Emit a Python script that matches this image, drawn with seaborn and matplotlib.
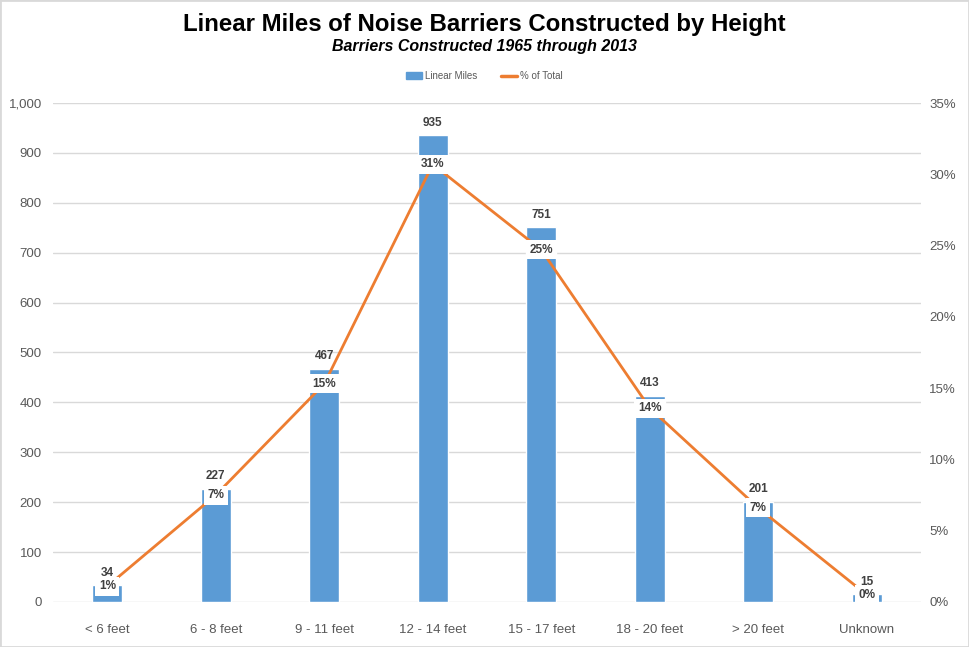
import numpy as np
import pandas as pd
import seaborn as sns
import matplotlib.pyplot as plt
from matplotlib.patches import Rectangle, Patch
from matplotlib.lines import Line2D
from matplotlib.ticker import FuncFormatter, MultipleLocator

# data
heights = ['< 6 feet', '6 - 8 feet', '9 - 11 feet', '12 - 14 feet',
           '15 - 17 feet', '18 - 20 feet', '> 20 feet', 'Unknown']
linear_miles = [34, 227, 467, 935, 751, 413, 201, 15]
pct_total = [1.1, 7.5, 15.3, 30.7, 24.7, 13.6, 6.6, 0.5]
pct_labels = ['1%', '7%', '15%', '31%', '25%', '14%', '7%', '0%']

df = pd.DataFrame({'height': heights, 'miles': linear_miles, 'pct': pct_total})
df['pos'] = np.arange(len(df))

sns.set_theme(style='white')
plt.rcParams['font.family'] = ['Liberation Sans', 'DejaVu Sans']

bar_color = '#5B9BD5'
line_color = '#ED7D31'
text_gray = '#595959'
label_gray = '#404040'
grid_gray = '#D9D9D9'

fig = plt.figure(figsize=(9.69, 6.47), dpi=100)
ax = fig.add_axes([0.0547, 0.0696, 0.8958, 0.7712])

# bars
sns.barplot(data=df, x='height', y='miles', color=bar_color, width=0.28,
            saturation=1, ax=ax, zorder=2)
ax.set_ylim(0, 1000)
ax.yaxis.set_major_locator(MultipleLocator(100))
ax.yaxis.set_major_formatter(FuncFormatter(lambda v, p: f'{v:,.0f}'))
ax.grid(axis='y', color=grid_gray, lw=1)
ax.set_axisbelow(True)
for s in ax.spines.values():
    s.set_visible(False)
ax.set_xlabel('')
ax.set_ylabel('')
ax.tick_params(axis='y', length=0, labelsize=9.5, labelcolor=text_gray, pad=8)
ax.tick_params(axis='x', length=0, labelsize=9.5, labelcolor=text_gray, pad=16)

for i, v in enumerate(linear_miles):
    ax.annotate(f'{v}', (i, v), xytext=(0, 9), textcoords='offset points',
                ha='center', va='center', fontsize=8.5, fontweight='bold',
                color=label_gray, zorder=5)

# % of total line on secondary axis
ax2 = ax.twinx()
sns.lineplot(data=df, x='pos', y='pct', color=line_color, lw=2.0, ax=ax2,
             zorder=3)
ax2.set_ylim(0, 35)
ax2.yaxis.set_major_locator(MultipleLocator(5))
ax2.yaxis.set_major_formatter(FuncFormatter(lambda v, p: f'{v:.0f}%'))
ax2.grid(False)
for s in ax2.spines.values():
    s.set_visible(False)
ax2.set_ylabel('')
ax2.tick_params(axis='y', length=0, labelsize=9.5, labelcolor=text_gray, pad=6)
ax.set_xlim(-0.5, len(heights) - 0.5)

for i, (p, lab) in enumerate(zip(pct_total, pct_labels)):
    ax2.text(i, p, lab, ha='center', va='center', fontsize=8.5,
             fontweight='bold', color=label_gray, zorder=6,
             bbox=dict(boxstyle='square,pad=0.3', fc='white', ec='none'))

# titles
fig.text(0.5, 1 - 25 / 647, 'Linear Miles of Noise Barriers Constructed by Height',
         ha='center', va='center', fontsize=17.3, fontweight='bold', color='black')
fig.text(0.5, 1 - 47 / 647, 'Barriers Constructed 1965 through 2013',
         ha='center', va='center', fontsize=11.5, fontweight='bold',
         fontstyle='italic', color='black')

# legend
handles = [Patch(color=bar_color, label='Linear Miles'),
           Line2D([0], [0], color=line_color, lw=2.5, label='% of Total')]
fig.legend(handles=handles, loc='center', bbox_to_anchor=(0.5, 1 - 76 / 647),
           ncol=2, frameon=False, fontsize=7, labelcolor=text_gray,
           handlelength=1.6, handleheight=0.6, columnspacing=2.5,
           handletextpad=0.3)

# chart area border
fig.add_artist(Rectangle((0, 0), 1, 1, transform=fig.transFigure, fill=False,
                         ec=grid_gray, lw=2))

plt.savefig('out.png', dpi=100)
